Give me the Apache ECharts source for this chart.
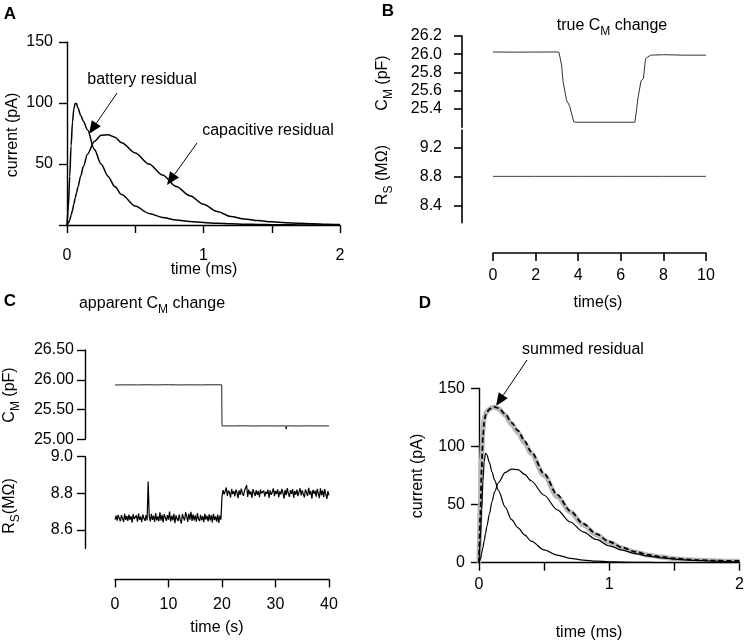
<!DOCTYPE html>
<html>
<head>
<meta charset="utf-8">
<script src="https://cdn.jsdelivr.net/npm/echarts@6/dist/echarts.min.js"></script>
<style>html,body{margin:0;padding:0;background:#fff}#c{width:747px;height:644px}</style>
</head>
<body>
<div id="c"></div>
<script>
// ---------- Panel A ----------
const aTime = [0, 0.01, 0.02, 0.03, 0.04, 0.05, 0.06, 0.07, 0.08, 0.1, 0.12, 0.15, 0.2, 0.25, 0.3, 0.35, 0.4, 0.5, 0.6, 0.7, 0.8, 0.9, 1.0, 1.1, 1.2, 1.3, 1.4, 1.5, 1.6, 1.7, 1.8, 1.9, 2.0];
const aBattery = [0, 15, 40, 65, 84, 95, 99.5, 99.5, 96, 90, 85, 78, 62, 50, 40, 31.5, 25, 15.5, 9.5, 6.2, 4.1, 2.8, 2.0, 1.4, 1.0, 0.7, 0.5, 0.3, 0.2, 0.1, 0.1, 0, 0];
const aCapacitive = [0, 1.5, 4, 8, 12, 17, 22, 26.5, 31, 40, 48, 58, 68.5, 73.5, 74, 72, 67.5, 59, 50, 41, 31.5, 24, 17, 11, 7, 5, 3.6, 2.6, 1.9, 1.4, 1.0, 0.7, 0.5];
const aXTicks = [0, 1, 2];
const aYTicks = [50, 100, 150];

// ---------- Panel B ----------
const bCmTime = [0, 1, 2, 3.0, 3.1, 3.22, 3.29, 3.36, 3.45, 3.6, 3.68, 3.79, 3.9, 5, 6, 6.66, 6.74, 6.8, 6.87, 6.95, 7.06, 7.16, 7.27, 7.4, 8, 9, 10];
const bCm = [26.025, 26.023, 26.024, 26.025, 26.02, 25.88, 25.70, 25.69, 25.50, 25.43, 25.42, 25.26, 25.255, 25.255, 25.255, 25.255, 25.39, 25.51, 25.53, 25.71, 25.73, 25.95, 25.97, 25.99, 25.995, 25.99, 25.99];
const bRsTime = [0, 2, 4, 6, 8, 10];
const bRs = [8.8, 8.8, 8.8, 8.8, 8.8, 8.8];
const bCmTicks = [25.4, 25.6, 25.8, 26.0, 26.2];
const bRsTicks = [8.4, 8.8, 9.2];
const bXTicks = [0, 2, 4, 6, 8, 10];

// ---------- Panel C ----------
const cCmTime = [0, 2, 4, 6, 8, 10, 12, 14, 16, 18, 19.95, 20, 22, 24, 26, 28, 30, 31.9, 32, 32.1, 34, 36, 38, 40];
const cCm = [25.912, 25.915, 25.913, 25.916, 25.914, 25.917, 25.913, 25.915, 25.914, 25.916, 25.915, 25.225, 25.224, 25.227, 25.223, 25.226, 25.224, 25.225, 25.17, 25.226, 25.223, 25.226, 25.224, 25.225];
const cRsSampleStep = 0.2; // s
const cRsBefore = [
8.657, 8.679, 8.652, 8.683, 8.664, 8.648, 8.681, 8.671, 8.645, 8.688,
8.655, 8.677, 8.650, 8.684, 8.656, 8.676, 8.641, 8.687, 8.660, 8.652,
8.680, 8.646, 8.690, 8.655, 8.674, 8.643, 8.685, 8.664, 8.650, 8.682,
8.653, 8.865, 8.674, 8.647, 8.688, 8.656, 8.679, 8.644, 8.692, 8.653,
8.675, 8.649, 8.697, 8.652, 8.683, 8.642, 8.687, 8.668, 8.650, 8.681,
8.657, 8.701, 8.647, 8.678, 8.653, 8.689, 8.638, 8.680, 8.661, 8.649,
8.684, 8.655, 8.636, 8.687, 8.668, 8.652, 8.698, 8.675, 8.645, 8.690,
8.657, 8.699, 8.650, 8.685, 8.653, 8.680, 8.646, 8.692, 8.661, 8.649,
8.683, 8.653, 8.676, 8.643, 8.688, 8.657, 8.678, 8.647, 8.686, 8.652,
8.681, 8.641, 8.689, 8.655, 8.674, 8.646, 8.685, 8.639, 8.679, 8.657];
const cRsAfterStart = 20; // s
const cRsAfter = [
8.782, 8.818, 8.795, 8.811, 8.832, 8.786, 8.815, 8.803, 8.778, 8.824,
8.796, 8.812, 8.783, 8.820, 8.806, 8.774, 8.816, 8.792, 8.826, 8.801,
8.787, 8.814, 8.806, 8.845, 8.781, 8.820, 8.794, 8.811, 8.776, 8.823,
8.803, 8.786, 8.818, 8.792, 8.813, 8.779, 8.821, 8.800, 8.790, 8.815,
8.783, 8.809, 8.797, 8.820, 8.775, 8.817, 8.792, 8.807, 8.827, 8.785,
8.813, 8.797, 8.822, 8.780, 8.811, 8.795, 8.824, 8.802, 8.772, 8.819,
8.791, 8.829, 8.800, 8.781, 8.817, 8.797, 8.823, 8.776, 8.813, 8.793,
8.821, 8.785, 8.808, 8.828, 8.789, 8.816, 8.795, 8.778, 8.822, 8.804,
8.786, 8.830, 8.793, 8.813, 8.771, 8.820, 8.797, 8.815, 8.782, 8.825,
8.800, 8.774, 8.827, 8.791, 8.817, 8.780, 8.823, 8.795, 8.770, 8.812,
8.789];
const cCmTicks = [25.0, 25.5, 26.0, 26.5];
const cRsTicks = [8.6, 8.8, 9.0];
const cXTicks = [0, 10, 20, 30, 40];

// ---------- Panel D ----------
const dTime = [0, 0.01, 0.02, 0.03, 0.04, 0.05, 0.06, 0.08, 0.1, 0.12, 0.15, 0.2, 0.25, 0.3, 0.35, 0.4, 0.5, 0.6, 0.7, 0.8, 0.9, 1.0, 1.1, 1.2, 1.3, 1.4, 1.5, 1.6, 1.7, 1.8, 1.9, 2.0];
const dBattery = [0, 20, 45, 70, 87, 94, 93, 86, 78, 71, 62, 48, 37, 30, 24, 18.5, 11, 6.6, 3.8, 2.3, 1.4, 0.8, 0.5, 0.3, 0.2, 0.1, 0.1, 0, 0, 0, 0, 0];
const dCapacitive = [0, 3, 8, 13, 19, 25, 31, 42, 52.5, 61, 69, 77.5, 80.5, 80, 76, 70.5, 58, 45.5, 35, 26.5, 20, 14.5, 10.8, 7.8, 5.7, 4.2, 3.1, 2.3, 1.7, 1.3, 1.0, 0.8];
const dSummedFit = [0, 50, 90, 114, 124, 128, 130, 132, 133.5, 134, 132.5, 127, 119, 112, 103, 94, 75, 57, 43.5, 32.5, 24, 17.5, 12.5, 9, 6.5, 4.8, 3.5, 2.6, 2, 1.6, 1.3, 1.2];
const dSummedCalc = [0, 40, 80, 108, 121, 127, 129.5, 132, 133.5, 134, 133, 128, 120.5, 113.5, 104.5, 95.5, 76.5, 58.5, 44.5, 33.5, 24.8, 18, 13, 9.4, 6.8, 5, 3.7, 2.8, 2.2, 1.8, 1.6, 1.5];

// ---------- helpers ----------
const FONT = '"Liberation Sans", Arial, Helvetica, sans-serif';
const pairs = (xs, ys) => ys.map((v, i) => [xs[i], v]);
const sampled = (start, step, ys) => ys.map((v, i) => [start + i * step, v]);

const chart = echarts.init(document.getElementById('c'), null, {renderer: 'canvas'});

function xAx(grid, min, max, interval, opts) {
  return Object.assign({
    type: 'value', gridIndex: grid, min: min, max: max, interval: interval,
    axisLine: {show: true, onZero: false, lineStyle: {color: '#000', width: 1.4}},
    axisTick: {show: true, length: 8, lineStyle: {color: '#000', width: 1.4}},
    splitLine: {show: false},
    axisLabel: {color: '#000', fontSize: 16, fontFamily: FONT, margin: 14}
  }, opts || {});
}
function yAx(grid, min, max, opts) {
  return Object.assign({
    type: 'value', gridIndex: grid, min: min, max: max,
    axisLine: {show: true, onZero: false, lineStyle: {color: '#000', width: 1.4}},
    axisTick: {show: true, length: 8, lineStyle: {color: '#000', width: 1.4}},
    splitLine: {show: false},
    axisLabel: {color: '#000', fontSize: 16, fontFamily: FONT, margin: 14}
  }, opts || {});
}
function line(xi, yi, data, color, width, extra) {
  return Object.assign({
    type: 'line', xAxisIndex: xi, yAxisIndex: yi, data: data, showSymbol: false, symbol: 'none',
    lineStyle: {color: color, width: width}, animation: false, silent: true
  }, extra || {});
}
function arrow(x1, y1, x2, y2, headLen, headW) {
  const dx = x2 - x1, dy = y2 - y1, L = Math.hypot(dx, dy);
  const ux = dx / L, uy = dy / L;
  const bx = x2 - ux * headLen, by = y2 - uy * headLen;
  const px = -uy * headW / 2, py = ux * headW / 2;
  return [
    {type: 'line', shape: {x1: x1, y1: y1, x2: bx, y2: by}, style: {stroke: '#000', lineWidth: 1}, silent: true},
    {type: 'polygon', shape: {points: [[x2, y2], [bx + px, by + py], [bx - px, by - py]]}, style: {fill: '#000'}, silent: true}
  ];
}
function txt(x, y, s, size, opts) {
  return Object.assign({
    type: 'text', x: x, y: y, silent: true,
    style: Object.assign({text: s, font: size + 'px ' + FONT, fill: '#000', textAlign: 'center', textVerticalAlign: 'middle'}, (opts && opts.style) || {})
  }, opts && opts.rotation !== undefined ? {rotation: opts.rotation} : {});
}
function richTxt(x, y, s, size, rotation) {
  return {
    type: 'text', x: x, y: y, rotation: rotation || 0, silent: true,
    style: {
      text: s, fill: '#000', textAlign: 'center', textVerticalAlign: 'middle',
      font: size + 'px ' + FONT,
      rich: {
        n: {fontSize: size, fontFamily: FONT, fill: '#000'},
        s: {fontSize: size - 4, fontFamily: FONT, fill: '#000', padding: [11, 0, 0, 0]}
      }
    }
  };
}
const fmt = d => v => v.toFixed(d);

const option = {
  animation: false,
  backgroundColor: '#fff',
  grid: [
    {left: 67, top: 42, width: 273, height: 183},          // A
    {left: 493, top: 36, width: 213, height: 91.25},       // B Cm
    {left: 493, top: 130, width: 213, height: 92.7},       // B Rs
    {left: 115, top: 350, width: 214, height: 89.3},       // C Cm
    {left: 115, top: 456.7, width: 214, height: 91.7},     // C Rs
    {left: 479, top: 388.3, width: 263.3, height: 174.4}   // D
  ],
  xAxis: [
    xAx(0, 0, 2, 0.5, {axisLabel: {color: '#000', fontSize: 16, fontFamily: FONT, margin: 23,
      formatter: v => aXTicks.indexOf(v) >= 0 ? String(v) : ''}}),
    xAx(1, 0, 10, 2, {show: false}),
    xAx(2, 0, 10, 2, {offset: 30.3, axisLabel: {color: '#000', fontSize: 16, fontFamily: FONT, margin: 15,
      customValues: bXTicks}, axisTick: {show: true, length: 8, lineStyle: {color: '#000', width: 1.6}, customValues: bXTicks},
      axisLine: {show: true, onZero: false, lineStyle: {color: '#000', width: 1.6}}}),
    xAx(3, 0, 40, 10, {show: false}),
    xAx(4, 0, 40, 10, {offset: 31, axisLabel: {color: '#000', fontSize: 16, fontFamily: FONT, margin: 17,
      customValues: cXTicks}, axisTick: {show: true, length: 8, lineStyle: {color: '#000', width: 1.4}, customValues: cXTicks}}),
    xAx(5, 0, 2, 0.5, {axisLabel: {color: '#000', fontSize: 16, fontFamily: FONT, margin: 14,
      formatter: v => [0, 1, 2].indexOf(v) >= 0 ? String(v) : ''}})
  ],
  yAxis: [
    yAx(0, 0, 150, {interval: 50, axisLabel: {color: '#000', fontSize: 16, fontFamily: FONT, margin: 14,
      formatter: v => aYTicks.indexOf(v) >= 0 ? String(v) : ''}}),
    yAx(1, 25.2, 26.2, {offset: 31,
      axisLabel: {color: '#000', fontSize: 16, fontFamily: FONT, margin: 20, customValues: bCmTicks, formatter: fmt(1)},
      axisTick: {show: true, length: 8, lineStyle: {color: '#000', width: 1.6}, customValues: bCmTicks},
      axisLine: {show: true, onZero: false, lineStyle: {color: '#000', width: 1.6}}}),
    yAx(2, 8.16, 9.44, {offset: 31,
      axisLabel: {color: '#000', fontSize: 16, fontFamily: FONT, margin: 20, customValues: bRsTicks, formatter: fmt(1)},
      axisTick: {show: true, length: 8, lineStyle: {color: '#000', width: 1.6}, customValues: bRsTicks},
      axisLine: {show: true, onZero: false, lineStyle: {color: '#000', width: 1.6}}}),
    yAx(3, 25.0, 26.5, {offset: 30,
      axisLabel: {color: '#000', fontSize: 16, fontFamily: FONT, margin: 11, customValues: cCmTicks, formatter: fmt(2)},
      axisTick: {show: true, length: 8, lineStyle: {color: '#000', width: 1.4}, customValues: cCmTicks}}),
    yAx(4, 8.5, 9.0, {offset: 30,
      axisLabel: {color: '#000', fontSize: 16, fontFamily: FONT, margin: 12, customValues: cRsTicks, formatter: fmt(1)},
      axisTick: {show: true, length: 8, lineStyle: {color: '#000', width: 1.4}, customValues: cRsTicks}}),
    yAx(5, 0, 150, {interval: 50})
  ],
  series: [
    line(0, 0, pairs(aTime, aBattery), '#000', 1.5, {smooth: 0.3, smoothMonotone: 'x'}),
    line(0, 0, pairs(aTime, aCapacitive), '#000', 1.5, {smooth: 0.3, smoothMonotone: 'x'}),
    line(1, 1, pairs(bCmTime, bCm), '#333', 1),
    line(2, 2, pairs(bRsTime, bRs), '#444', 1),
    line(3, 3, pairs(cCmTime, cCm), '#222', 1),
    line(4, 4, sampled(0, cRsSampleStep, cRsBefore).concat(sampled(cRsAfterStart, cRsSampleStep, cRsAfter)), '#000', 1.2),
    line(5, 5, pairs(dTime, dSummedFit), '#b8b8b8', 5, {smooth: 0.3, smoothMonotone: 'x'}),
    line(5, 5, pairs(dTime, dSummedCalc), '#000', 1.8, {smooth: 0.3, smoothMonotone: 'x', lineStyle: {color: '#000', width: 1.8, type: [5, 3]}}),
    line(5, 5, pairs(dTime, dBattery), '#000', 1.2, {smooth: 0.3, smoothMonotone: 'x'}),
    line(5, 5, pairs(dTime, dCapacitive), '#000', 1.2, {smooth: 0.3, smoothMonotone: 'x'})
  ],
  graphic: [].concat(
    [
      txt(10, 14, 'A', 17, {style: {font: 'bold 17px ' + FONT}}),
      txt(388, 11, 'B', 17, {style: {font: 'bold 17px ' + FONT}}),
      txt(10, 301, 'C', 17, {style: {font: 'bold 17px ' + FONT}}),
      txt(425, 303, 'D', 17, {style: {font: 'bold 17px ' + FONT}}),
      txt(13, 135, 'current (pA)', 16, {rotation: Math.PI / 2}),
      txt(204, 270, 'time (ms)', 16),
      txt(142, 80, 'battery residual', 16),
      txt(268, 131, 'capacitive residual', 16),
      richTxt(612, 26, '{n|true C}{s|M}{n| change}', 16),
      richTxt(383, 83, '{n|C}{s|M}{n| (pF)}', 16, Math.PI / 2),
      richTxt(383, 175, '{n|R}{s|S}{n| (MΩ)}', 16, Math.PI / 2),
      txt(598, 303, 'time(s)', 16),
      richTxt(152, 304, '{n|apparent C}{s|M}{n| change}', 16),
      richTxt(10, 395, '{n|C}{s|M}{n| (pF)}', 16, Math.PI / 2),
      richTxt(10, 506, '{n|R}{s|S}{n|(MΩ)}', 16, Math.PI / 2),
      txt(217, 628, 'time (s)', 16),
      txt(418, 476, 'current (pA)', 16, {rotation: Math.PI / 2}),
      txt(589, 633, 'time (ms)', 16),
      txt(583, 350, 'summed residual', 16)
    ],
    arrow(117, 93, 89, 134, 13, 11),
    arrow(197, 143, 167, 185, 13, 11),
    arrow(527, 360, 496, 406, 13, 11)
  )
};
chart.setOption(option);
</script>
</body>
</html>
